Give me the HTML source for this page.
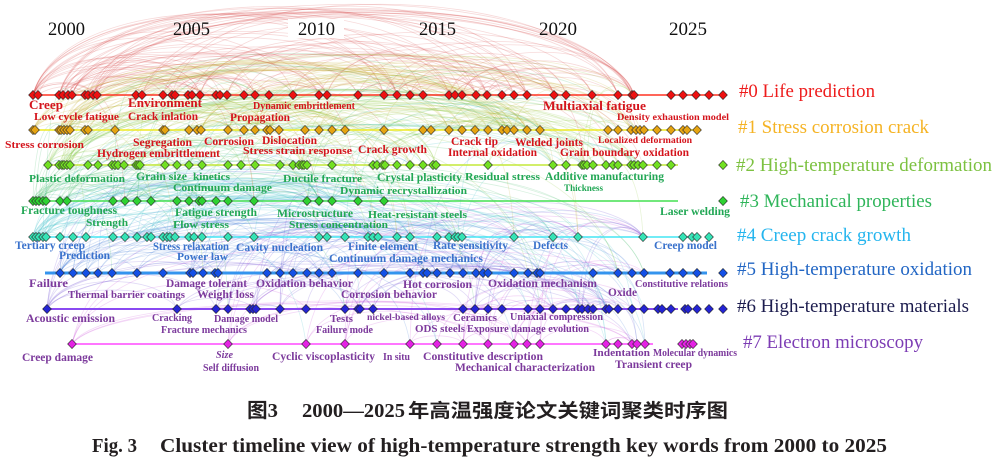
<!DOCTYPE html>
<html><head><meta charset="utf-8"><title>Cluster timeline</title>
<style>
html,body{margin:0;padding:0;background:#fff;width:999px;height:465px;overflow:hidden}
svg{display:block}
text{font-family:"Liberation Serif","Noto Serif CJK SC",serif}
.yr{font-size:18.5px;fill:#111}
.lg{font-size:19px}
.k text{font-weight:bold}
.r{fill:#d4141c}.g{fill:#22a755}.b{fill:#3a72cc}.p{fill:#7c3a9c}
.cap{font-weight:bold;fill:#231f20}
</style></head><body>
<svg xmlns="http://www.w3.org/2000/svg" width="999" height="465" viewBox="0 0 999 465">
<g id="arcs" fill="none" stroke-width="0.8"></g>
<g id="lines"></g>
<g id="yrs">
<rect x="288" y="19" width="56" height="19" fill="#fff"/>
<text class="yr" x="48" y="35" textLength="37" lengthAdjust="spacingAndGlyphs">2000</text>
<text class="yr" x="173" y="35" textLength="37" lengthAdjust="spacingAndGlyphs">2005</text>
<text class="yr" x="298" y="35" textLength="37" lengthAdjust="spacingAndGlyphs">2010</text>
<text class="yr" x="419" y="35" textLength="37" lengthAdjust="spacingAndGlyphs">2015</text>
<text class="yr" x="539" y="35" textLength="38" lengthAdjust="spacingAndGlyphs">2020</text>
<text class="yr" x="669" y="35" textLength="38" lengthAdjust="spacingAndGlyphs">2025</text>
</g>
<g id="nodes"></g>
<g class="k">
<text class="r" x="29" y="109" font-size="13" textLength="34" lengthAdjust="spacingAndGlyphs">Creep</text>
<text class="r" x="128" y="107" font-size="13" textLength="74" lengthAdjust="spacingAndGlyphs">Environment</text>
<text class="r" x="253" y="109" font-size="10" textLength="102" lengthAdjust="spacingAndGlyphs">Dynamic embrittlement</text>
<text class="r" x="543" y="110" font-size="13" textLength="103" lengthAdjust="spacingAndGlyphs">Multiaxial fatigue</text>
<text class="r" x="34" y="120" font-size="11" textLength="85" lengthAdjust="spacingAndGlyphs">Low cycle fatigue</text>
<text class="r" x="128" y="120" font-size="11.5" textLength="70" lengthAdjust="spacingAndGlyphs">Crack inlation</text>
<text class="r" x="230" y="121" font-size="12" textLength="60" lengthAdjust="spacingAndGlyphs">Propagation</text>
<text class="r" x="617" y="120" font-size="9.5" textLength="112" lengthAdjust="spacingAndGlyphs">Density exhaustion model</text>
<text class="r" x="5" y="148" font-size="11" textLength="79" lengthAdjust="spacingAndGlyphs">Stress corrosion</text>
<text class="r" x="133" y="146" font-size="11.5" textLength="59" lengthAdjust="spacingAndGlyphs">Segregation</text>
<text class="r" x="204" y="145" font-size="11.5" textLength="50" lengthAdjust="spacingAndGlyphs">Corrosion</text>
<text class="r" x="262" y="144" font-size="11.5" textLength="55" lengthAdjust="spacingAndGlyphs">Dislocation</text>
<text class="r" x="97" y="157" font-size="11.5" textLength="123" lengthAdjust="spacingAndGlyphs">Hydrogen embrittlement</text>
<text class="r" x="243" y="154" font-size="11" textLength="109" lengthAdjust="spacingAndGlyphs">Stress strain response</text>
<text class="r" x="358" y="153" font-size="11.5" textLength="69" lengthAdjust="spacingAndGlyphs">Crack growth</text>
<text class="r" x="451" y="145" font-size="12" textLength="47" lengthAdjust="spacingAndGlyphs">Crack tip</text>
<text class="r" x="515" y="146" font-size="12" textLength="68" lengthAdjust="spacingAndGlyphs">Welded joints</text>
<text class="r" x="598" y="143" font-size="9.5" textLength="94" lengthAdjust="spacingAndGlyphs">Localized deformation</text>
<text class="r" x="448" y="156" font-size="11.5" textLength="89" lengthAdjust="spacingAndGlyphs">Internal oxidation</text>
<text class="r" x="560" y="156" font-size="11.5" textLength="129" lengthAdjust="spacingAndGlyphs">Grain boundary oxidation</text>
<text class="g" x="29" y="182" font-size="11" textLength="96" lengthAdjust="spacingAndGlyphs">Plastic deformation</text>
<text class="g" x="136" y="180" font-size="11.5" textLength="51" lengthAdjust="spacingAndGlyphs">Grain size</text>
<text class="g" x="193" y="180" font-size="11" textLength="37" lengthAdjust="spacingAndGlyphs">kinetics</text>
<text class="g" x="283" y="182" font-size="11" textLength="79" lengthAdjust="spacingAndGlyphs">Ductile fracture</text>
<text class="g" x="377" y="181" font-size="11.5" textLength="85" lengthAdjust="spacingAndGlyphs">Crystal plasticity</text>
<text class="g" x="465" y="180" font-size="11" textLength="75" lengthAdjust="spacingAndGlyphs">Residual stress</text>
<text class="g" x="545" y="180" font-size="11.5" textLength="119" lengthAdjust="spacingAndGlyphs">Additive manufacturing</text>
<text class="g" x="564" y="191" font-size="9.5" textLength="39" lengthAdjust="spacingAndGlyphs">Thickness</text>
<text class="g" x="173" y="191" font-size="11" textLength="99" lengthAdjust="spacingAndGlyphs">Continuum damage</text>
<text class="g" x="340" y="194" font-size="11" textLength="127" lengthAdjust="spacingAndGlyphs">Dynamic recrystallization</text>
<text class="g" x="21" y="214" font-size="11.5" textLength="96" lengthAdjust="spacingAndGlyphs">Fracture toughness</text>
<text class="g" x="86" y="226" font-size="11" textLength="42" lengthAdjust="spacingAndGlyphs">Strength</text>
<text class="g" x="175" y="216" font-size="11.5" textLength="82" lengthAdjust="spacingAndGlyphs">Fatigue strength</text>
<text class="g" x="173" y="228" font-size="11" textLength="56" lengthAdjust="spacingAndGlyphs">Flow stress</text>
<text class="g" x="277" y="217" font-size="11.5" textLength="76" lengthAdjust="spacingAndGlyphs">Microstructure</text>
<text class="g" x="289" y="228" font-size="11" textLength="99" lengthAdjust="spacingAndGlyphs">Stress concentration</text>
<text class="g" x="368" y="218" font-size="11" textLength="99" lengthAdjust="spacingAndGlyphs">Heat-resistant steels</text>
<text class="g" x="660" y="215" font-size="11.5" textLength="70" lengthAdjust="spacingAndGlyphs">Laser welding</text>
<text class="b" x="15" y="249" font-size="11.5" textLength="70" lengthAdjust="spacingAndGlyphs">Tertiary creep</text>
<text class="b" x="59" y="259" font-size="11.5" textLength="51" lengthAdjust="spacingAndGlyphs">Prediction</text>
<text class="b" x="153" y="250" font-size="11.5" textLength="76" lengthAdjust="spacingAndGlyphs">Stress relaxation</text>
<text class="b" x="177" y="260" font-size="11" textLength="51" lengthAdjust="spacingAndGlyphs">Power law</text>
<text class="b" x="236" y="251" font-size="11.5" textLength="87" lengthAdjust="spacingAndGlyphs">Cavity nucleation</text>
<text class="b" x="348" y="250" font-size="11.5" textLength="70" lengthAdjust="spacingAndGlyphs">Finite element</text>
<text class="b" x="329" y="262" font-size="11.5" textLength="154" lengthAdjust="spacingAndGlyphs">Continuum damage mechanics</text>
<text class="b" x="433" y="249" font-size="11.5" textLength="75" lengthAdjust="spacingAndGlyphs">Rate sensitivity</text>
<text class="b" x="533" y="249" font-size="11.5" textLength="35" lengthAdjust="spacingAndGlyphs">Defects</text>
<text class="b" x="654" y="249" font-size="11.5" textLength="63" lengthAdjust="spacingAndGlyphs">Creep model</text>
<text class="p" x="29" y="287" font-size="11.5" textLength="39" lengthAdjust="spacingAndGlyphs">Failure</text>
<text class="p" x="68" y="298" font-size="11" textLength="117" lengthAdjust="spacingAndGlyphs">Thermal barrier coatings</text>
<text class="p" x="166" y="287" font-size="11.5" textLength="81" lengthAdjust="spacingAndGlyphs">Damage tolerant</text>
<text class="p" x="197" y="298" font-size="11.5" textLength="57" lengthAdjust="spacingAndGlyphs">Weight loss</text>
<text class="p" x="256" y="287" font-size="11.5" textLength="97" lengthAdjust="spacingAndGlyphs">Oxidation behavior</text>
<text class="p" x="341" y="298" font-size="11.5" textLength="96" lengthAdjust="spacingAndGlyphs">Corrosion behavior</text>
<text class="p" x="403" y="288" font-size="11.5" textLength="69" lengthAdjust="spacingAndGlyphs">Hot corrosion</text>
<text class="p" x="488" y="287" font-size="11.5" textLength="109" lengthAdjust="spacingAndGlyphs">Oxidation mechanism</text>
<text class="p" x="608" y="296" font-size="11.5" textLength="29" lengthAdjust="spacingAndGlyphs">Oxide</text>
<text class="p" x="635" y="287" font-size="10" textLength="93" lengthAdjust="spacingAndGlyphs">Constitutive relations</text>
<text class="p" x="26" y="322" font-size="11.5" textLength="89" lengthAdjust="spacingAndGlyphs">Acoustic emission</text>
<text class="p" x="152" y="321" font-size="11" textLength="40" lengthAdjust="spacingAndGlyphs">Cracking</text>
<text class="p" x="214" y="322" font-size="11" textLength="64" lengthAdjust="spacingAndGlyphs">Damage model</text>
<text class="p" x="161" y="333" font-size="10.5" textLength="86" lengthAdjust="spacingAndGlyphs">Fracture mechanics</text>
<text class="p" x="330" y="322" font-size="11" textLength="23" lengthAdjust="spacingAndGlyphs">Tests</text>
<text class="p" x="316" y="333" font-size="10.5" textLength="57" lengthAdjust="spacingAndGlyphs">Failure mode</text>
<text class="p" x="367" y="320" font-size="9.5" textLength="78" lengthAdjust="spacingAndGlyphs">nickel-based alloys</text>
<text class="p" x="453" y="321" font-size="11" textLength="44" lengthAdjust="spacingAndGlyphs">Ceramics</text>
<text class="p" x="510" y="320" font-size="10.5" textLength="93" lengthAdjust="spacingAndGlyphs">Uniaxial compression</text>
<text class="p" x="415" y="332" font-size="11" textLength="50" lengthAdjust="spacingAndGlyphs">ODS steels</text>
<text class="p" x="467" y="332" font-size="10.5" textLength="122" lengthAdjust="spacingAndGlyphs">Exposure damage evolution</text>
<text class="p" x="22" y="361" font-size="11.5" textLength="71" lengthAdjust="spacingAndGlyphs">Creep damage</text>
<text class="p" x="216" y="358" font-size="10" font-style="italic" textLength="17" lengthAdjust="spacingAndGlyphs">Size</text>
<text class="p" x="203" y="371" font-size="10" textLength="56" lengthAdjust="spacingAndGlyphs">Self diffusion</text>
<text class="p" x="272" y="360" font-size="11.5" textLength="103" lengthAdjust="spacingAndGlyphs">Cyclic viscoplasticity</text>
<text class="p" x="383" y="360" font-size="10" textLength="27" lengthAdjust="spacingAndGlyphs">In situ</text>
<text class="p" x="423" y="360" font-size="11.5" textLength="120" lengthAdjust="spacingAndGlyphs">Constitutive description</text>
<text class="p" x="455" y="371" font-size="11.5" textLength="140" lengthAdjust="spacingAndGlyphs">Mechanical characterization</text>
<text class="p" x="593" y="356" font-size="11" textLength="57" lengthAdjust="spacingAndGlyphs">Indentation</text>
<text class="p" x="653" y="356" font-size="10" textLength="84" lengthAdjust="spacingAndGlyphs">Molecular dynamics</text>
<text class="p" x="615" y="368" font-size="11.5" textLength="77" lengthAdjust="spacingAndGlyphs">Transient creep</text>
</g>
<g>
<text class="lg" x="739" y="97" fill="#ee1c1c" textLength="136" lengthAdjust="spacingAndGlyphs">#0 Life prediction</text>
<text class="lg" x="738" y="133" fill="#f5b324" textLength="191" lengthAdjust="spacingAndGlyphs">#1 Stress corrosion crack</text>
<text class="lg" x="736" y="171" fill="#7cc140" textLength="256" lengthAdjust="spacingAndGlyphs">#2 High-temperature deformation</text>
<text class="lg" x="740" y="207" fill="#2fb55a" textLength="192" lengthAdjust="spacingAndGlyphs">#3 Mechanical properties</text>
<text class="lg" x="737" y="241" fill="#25b5ee" textLength="174" lengthAdjust="spacingAndGlyphs">#4 Creep crack growth</text>
<text class="lg" x="737" y="275" fill="#2266c4" textLength="235" lengthAdjust="spacingAndGlyphs">#5 High-temperature oxidation</text>
<text class="lg" x="737" y="312" fill="#1c1c4e" textLength="232" lengthAdjust="spacingAndGlyphs">#6 High-temperature materials</text>
<text class="lg" x="743" y="348" fill="#7c3cb4" textLength="180" lengthAdjust="spacingAndGlyphs">#7 Electron microscopy</text>
</g>
<g>
<text class="cap" x="247" y="417" font-size="20" textLength="31" lengthAdjust="spacingAndGlyphs" style="font-family:'Liberation Serif','Noto Sans CJK SC',sans-serif">图3</text>
<text class="cap" x="302" y="417" font-size="20" textLength="103" lengthAdjust="spacingAndGlyphs">2000—2025</text>
<text class="cap" x="408" y="417" font-size="19" textLength="320" lengthAdjust="spacingAndGlyphs" style="font-family:'Noto Sans CJK SC','Liberation Sans',sans-serif">年高温强度论文关键词聚类时序图</text>
<text class="cap" x="92" y="452" font-size="20" textLength="45" lengthAdjust="spacingAndGlyphs">Fig. 3</text>
<text class="cap" x="160" y="452" font-size="20" textLength="727" lengthAdjust="spacingAndGlyphs">Cluster timeline view of high-temperature strength key words from 2000 to 2025</text>
</g>
</svg>
<script>
(function(){
var NS="http://www.w3.org/2000/svg";
var Y=[95,130,165,201,237,273,309,344];
var N=[
[33,38,59,63,68,72,85,88,93,97,136,142,163,172,175,188,192,200,216,220,227,244,255,269,293,319,327,358,384,397,410,423,449,455,462,476,487,502,514,527,554,566,592,618,632,634,671,683,696,709,723],
[33,35,59,61,64,67,70,85,88,115,163,165,189,197,201,228,244,255,267,270,279,305,319,332,345,384,423,431,449,462,475,488,502,507,514,527,540,608,618,631,636,640,644,657,671,683,687,697],
[48,59,62,64,67,70,88,98,112,115,118,124,136,138,140,165,177,189,202,228,241,255,280,293,299,302,304,307,332,373,377,383,385,397,410,423,433,436,488,553,566,582,584,587,593,606,613,618,631,634,638,643,657,671,723],
[33,36,39,43,46,60,67,113,125,137,151,177,189,199,202,216,228,254,307,319,332,358,384,723],
[33,36,39,43,46,60,73,86,113,125,137,147,151,163,167,170,175,189,194,202,228,254,319,327,345,368,373,378,397,410,437,449,455,458,462,514,553,578,643,683,692,697,709],
[60,73,86,98,112,137,163,190,193,203,215,218,267,280,293,307,319,332,358,384,410,423,427,437,450,463,476,483,488,514,528,537,540,593,618,632,644,670,683,697,723],
[47,177,216,228,250,253,256,280,306,345,358,360,373,463,475,488,502,528,540,553,566,578,582,588,593,606,609,618,632,644,658,662,671,685,688,697,709,723],
[72,228,306,345,410,437,463,488,514,527,540,606,618,632,637,645,682,686,690,693]
];
var NC=['#ee1111','#e6a412','#72e022','#2ed232','#35e3b6','#1450e6','#2424d4','#e422e4'];
var AC=['#d84848','#c4a82a','#8cc83c','#3cb864','#38c0c8','#3a78d8','#6a48d0','#c848d8'];
var LC=[['#ff3322',33,723,1.6],['#eeea22',33,700,1.6],['#c4e838',45,678,1.6],['#44e050',33,678,1.6],['#44e6f4',33,700,1.6],['#3494ee',45,707,3],['#8a4af2',43,678,2],['#ff48ff',72,653,1.6]];
var s=20250101;
function R(){s|=0;s=s+0x6D2B79F5|0;var t=Math.imul(s^s>>>15,1|s);t=t+Math.imul(t^t>>>7,61|t)^t;return((t^t>>>14)>>>0)/4294967296;}
function el(tag,attrs,parent){var e=document.createElementNS(NS,tag);for(var k in attrs)e.setAttribute(k,attrs[k]);parent.appendChild(e);return e;}
var A=document.getElementById('arcs');
function arc(x1,y1,x2,y2,h){
  var top=Math.min(y1,y2)-h; if(top<3) top=3;
  var dx=x2-x1;
  var c1y=y1-(y1-top)*1.33, c2y=y2-(y2-top)*1.33;
  return 'M'+x1+','+y1+'C'+(x1+dx*0.08).toFixed(1)+','+c1y.toFixed(1)+' '+(x2-dx*0.08).toFixed(1)+','+c2y.toFixed(1)+' '+x2+','+y2;
}
function add(d,col,op){el('path',{d:d,stroke:col,'stroke-opacity':op},A);}
var counts=[120,70,75,45,55,45,35,15];
var caps=[92,70,70,65,60,55,50,45];
for(var c=0;c<8;c++){
  var xs=N[c].filter(function(x){return x<=640;});
  for(var k=0;k<counts[c];k++){
    var i=Math.floor(Math.pow(R(),1.5)*xs.length*0.8);
    var j=i+1+Math.floor(R()*(xs.length-i-1));
    if(j>=xs.length) continue;
    var x1=xs[i],x2=xs[j]; if(x2-x1<12) continue;
    var h=(x2-x1)*(0.14+R()*0.12); h=Math.min(h,caps[c]*(0.85+R()*0.15),Y[c]-4);
    add(arc(x1,Y[c],x2,Y[c],h),AC[c],0.2);
  }
}
for(var k=0;k<360;k++){
  var a=Math.floor(R()*8);
  var b=a+(R()<0.6?-1:1)*(1+Math.floor(R()*3));
  if(b<0||b>7||b===a) continue;
  var xa=N[a].filter(function(x){return x<=600;}), xb=N[b].filter(function(x){return x<=645;});
  var x1=xa[Math.floor(Math.pow(R(),1.5)*xa.length)];
  var cand=xb.filter(function(x){return x>x1+20;});
  if(!cand.length) continue;
  var x2=cand[Math.floor(R()*cand.length)];
  var h=Math.min((x2-x1)*(0.05+R()*0.1),40);
  add(arc(x1,Y[a],x2,Y[b],h),AC[a],0.2);
}
var L=document.getElementById('lines');
for(var c=0;c<8;c++){el('line',{x1:LC[c][1],y1:Y[c],x2:LC[c][2],y2:Y[c],stroke:LC[c][0],'stroke-width':LC[c][3]},L);}
var G=document.getElementById('nodes');
for(var c=0;c<8;c++){
  var y=Y[c];
  N[c].forEach(function(x){
    el('polygon',{points:x+','+(y-4.6)+' '+(x+4.4)+','+y+' '+x+','+(y+4.6)+' '+(x-4.4)+','+y,fill:NC[c],stroke:'#2a2a2a','stroke-width':0.6},G);
  });
}
})();
</script>
</body></html>
